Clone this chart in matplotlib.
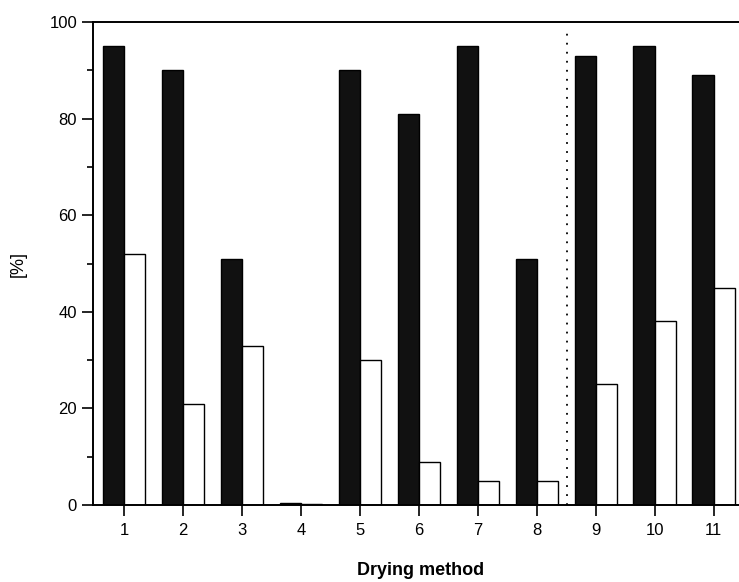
import matplotlib.pyplot as plt
from matplotlib.ticker import MultipleLocator

plt.rcParams['font.family'] = ['Liberation Sans', 'DejaVu Sans']

methods = [1, 2, 3, 4, 5, 6, 7, 8, 9, 10, 11]
black_vals = [95, 90, 51, 0.5, 90, 81, 95, 51, 93, 95, 89]
white_vals = [52, 21, 33, 0.3, 30, 9, 5, 5, 25, 38, 45]

fig = plt.figure(figsize=(7.39, 5.82), dpi=100)
ax = fig.add_axes([93 / 739, 0.1323, (749 - 93) / 739, 0.8299])

w = 0.36
xb = [m - w / 2 for m in methods]
xw = [m + w / 2 for m in methods]
ax.bar(xb, black_vals, width=w, color='#111111', edgecolor='black', linewidth=1)
ax.bar(xw, white_vals, width=w, color='white', edgecolor='black', linewidth=1)

# separator between methods 8 and 9
ax.axvline(8.52, ymin=0.0, ymax=0.985, color='black', linestyle=(0, (1, 4)), linewidth=1.3)

ax.set_xlim(0.47, 11.6)
ax.set_ylim(0, 100)
ax.set_xticks(methods)
ax.yaxis.set_major_locator(MultipleLocator(20))
ax.yaxis.set_minor_locator(MultipleLocator(10))
ax.tick_params(axis='both', which='major', direction='out', length=8, width=1.2, labelsize=12)
ax.tick_params(axis='x', which='major', pad=5)
ax.tick_params(axis='y', which='minor', direction='out', length=4, width=1.2)

for s in ['left', 'bottom', 'top']:
    ax.spines[s].set_linewidth(1.4)
ax.spines['right'].set_visible(False)

ax.set_ylabel('[%]', fontsize=13, labelpad=16)
ax.set_xlabel('Drying method', fontsize=13, fontweight='bold', labelpad=17)

fig.savefig('out.png', dpi=100)
